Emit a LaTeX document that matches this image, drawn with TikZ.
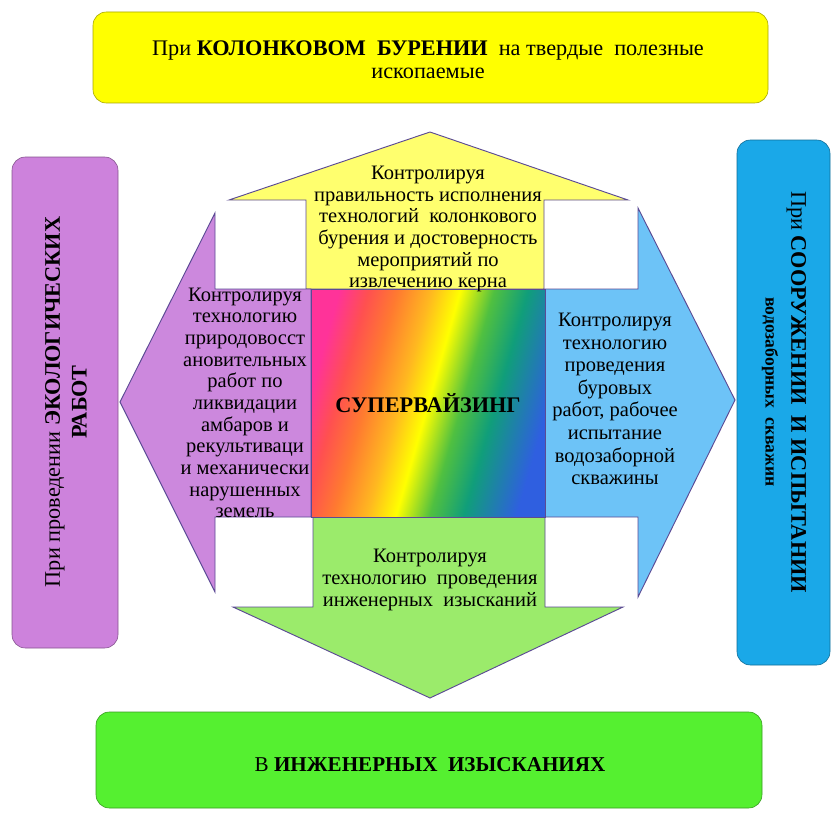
\documentclass[tikz,border=0pt]{standalone}
\usepackage{fontspec}
\IfFontExistsTF{LiberationSerif-Regular.ttf}
	{\setmainfont{LiberationSerif-Regular.ttf}[BoldFont=LiberationSerif-Bold.ttf]}
	{\setmainfont{DejaVu Serif}[Scale=0.85]}
\definecolor{yelbox}{HTML}{FFFF00}
\definecolor{yelarr}{HTML}{FFFF6E}
\definecolor{violbox}{HTML}{CD82DC}
\definecolor{violarr}{HTML}{CC88DD}
\definecolor{bluebox}{HTML}{1AA8E8}
\definecolor{bluearr}{HTML}{6DC3F7}
\definecolor{grnbox}{HTML}{55F030}
\definecolor{grnarr}{HTML}{9BEB6B}
\definecolor{arrline}{HTML}{5B4A94}
\definecolor{sp_1}{HTML}{FF3399}
\definecolor{sp_2}{HTML}{FF5050}
\definecolor{sp_3}{HTML}{FF7A30}
\definecolor{sp_4}{HTML}{FFB820}
\definecolor{sp_5}{HTML}{FFFF00}
\definecolor{sp_6}{HTML}{50C040}
\definecolor{sp_7}{HTML}{109E7A}
\definecolor{sp_8}{HTML}{2F5FE0}
\pgfdeclarehorizontalshading{spectrum}{100bp}{color(0bp)=(sp_1); color(25bp)=(sp_1); color(31bp)=(sp_2); color(37bp)=(sp_3); color(44bp)=(sp_4); color(50bp)=(sp_5); color(57bp)=(sp_6); color(64bp)=(sp_7); color(75bp)=(sp_8); color(100bp)=(sp_8)}

\begin{document}
\begin{tikzpicture}[x=0.03cm,y=-0.03cm,
	box/.style={draw=#1!65!black,line width=0.5pt,rounded corners=0.4cm,fill=#1},
	blockarrow/.style={draw=arrline,line width=0.8pt,fill=#1},
	txt/.style={align=center,inner sep=0pt,font=\fontsize{17.5}{18.5}\selectfont}]
	\useasboundingbox (0,0) rectangle (832,815);

	\filldraw[box=yelbox] (93,12) rectangle (768,103);
	\filldraw[box=violbox] (12,157) rectangle (118,648);
	\filldraw[box=bluebox] (737,140) rectangle (830,665);
	\filldraw[box=grnbox] (96,712) rectangle (762,808);

	\filldraw[blockarrow=yelarr] (306,289) -- (306,200) -- (229,200) -- (430,132) -- (628,200) -- (544,200) -- (544,289) -- cycle;
	\filldraw[blockarrow=violarr] (311,289) -- (215,289) -- (215,213) -- (120,402) -- (215,592) -- (215,517) -- (311,517) -- cycle;
	\filldraw[blockarrow=bluearr] (544,289) -- (638,289) -- (638,208) -- (735,400) -- (638,597) -- (638,517) -- (544,517) -- cycle;
	\filldraw[blockarrow=grnarr] (313,517) -- (313,607) -- (233,607) -- (430,698) -- (623,607) -- (545,607) -- (545,517) -- cycle;

	\shade[shading=spectrum,shading angle=-16] (311,289) rectangle (545,517);
	\draw[arrline,line width=0.8pt] (311,289) rectangle (545,517);

	\node[font=\fontsize{19}{20}\selectfont\bfseries] (c_0) at (428,403) {СУПЕРВАЙЗИНГ};

	\node[txt] (a_1) at (428,229) {Контролируя\\правильность исполнения\\технологий\ \ колонкового\\бурения и достоверность\\мероприятий по\\извлечению керна};
	\node[txt] (a_2) at (245,403) {Контролируя\\технологию\\природовосст\\ановительных\\работ по\\ликвидации\\амбаров и\\рекультиваци\\и механически\\нарушенных\\земель};
	\node[txt,font=\fontsize{17.5}{19.3}\selectfont] (a_3) at (615,399) {Контролируя\\технологию\\проведения\\буровых\\работ, рабочее\\испытание\\водозаборной\\скважины};
	\node[txt] (a_4) at (430,580) {Контролируя\\технологию\ \ проведения\\инженерных\ \ изысканий};

	\node[txt,font=\fontsize{19}{20}\selectfont] (b_1) at (428,60) {При \textbf{КОЛОНКОВОМ\ \ БУРЕНИИ}\ \ на твердые\ \ полезные\\ископаемые};
	\node[txt,rotate=90,font=\fontsize{19}{23}\selectfont] (b_2) at (66,402) {При проведении \textbf{ЭКОЛОГИЧЕСКИХ}\\\textbf{РАБОТ}};
	\node[txt,rotate=-90,font=\fontsize{19}{22}\selectfont] (b_3) at (784,392) {При \textbf{СООРУЖЕНИИ\ \ И ИСПЫТАНИИ}\\{\fontsize{15}{22}\selectfont\bfseries водозаборных\ \ скважин}};
	\node[txt,font=\fontsize{18}{20}\selectfont] (b_4) at (430,765) {В \textbf{ИНЖЕНЕРНЫХ\ \ ИЗЫСКАНИЯХ}};
\end{tikzpicture}
\end{document}
